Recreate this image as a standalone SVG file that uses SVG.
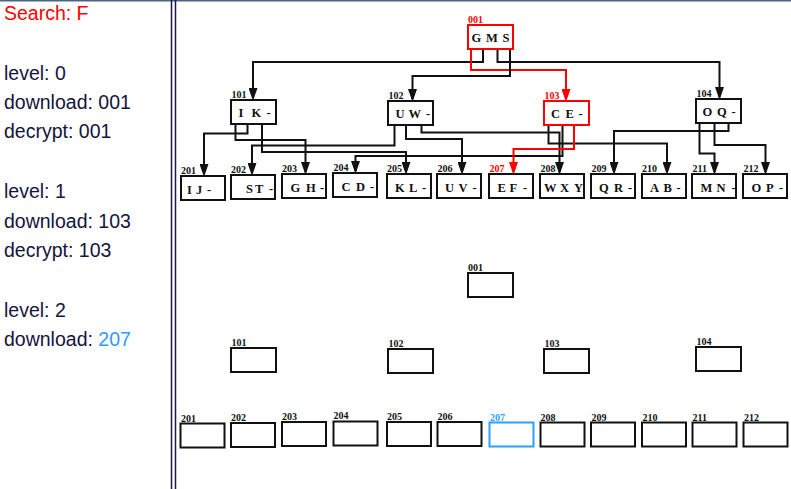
<svg xmlns="http://www.w3.org/2000/svg" width="791" height="489" viewBox="0 0 791 489">
<style>
.side{font-family:"Liberation Sans",Arial,sans-serif;font-size:19.5px;fill:#14143c}
.box{fill:#fff;stroke:#111;stroke-width:2}
.red{stroke:#ff0000}
.blue{stroke:#2b9fff}
.lbl{font-family:"Liberation Serif","Times New Roman",serif;font-weight:bold;font-size:10px;fill:#111}
.key{font-family:"Liberation Serif","Times New Roman",serif;font-weight:bold;font-size:12.5px;fill:#111}
.edge{fill:none;stroke:#111;stroke-width:2}
.edge.r{stroke:#ff0000}
</style>
<defs>
<marker id="ah" markerUnits="userSpaceOnUse" markerWidth="13" markerHeight="9" refX="10" refY="4.5" orient="auto" viewBox="0 0 13 9"><path d="M0,0 L13,4.5 L0,9 z" fill="#111"/></marker>
<marker id="ahr" markerUnits="userSpaceOnUse" markerWidth="13" markerHeight="9" refX="10" refY="4.5" orient="auto" viewBox="0 0 13 9"><path d="M0,0 L13,4.5 L0,9 z" fill="#ff0000"/></marker>
</defs>
<rect width="791" height="489" fill="#fff"/>
<rect x="0" y="0" width="791" height="1.5" fill="#4a6483"/>
<line x1="171.5" y1="0" x2="171.5" y2="489" stroke="#1a1a4a" stroke-width="1.5"/>
<line x1="175.5" y1="0" x2="175.5" y2="489" stroke="#1a1a4a" stroke-width="1.5"/>

<g id="sidebar">
<text class="side" x="4" y="20" style="fill:#ff0000">Search: F</text>
<text class="side" x="4" y="80">level: 0</text>
<text class="side" x="4" y="109">download: 001</text>
<text class="side" x="4" y="138">decrypt: 001</text>
<text class="side" x="4" y="198">level: 1</text>
<text class="side" x="4" y="228">download: 103</text>
<text class="side" x="4" y="257">decrypt: 103</text>
<text class="side" x="4" y="317">level: 2</text>
<text class="side" x="4" y="346">download: <tspan style="fill:#3399ff">207</tspan></text>
</g>

<g id="connectors">
<polyline class="edge" points="483,37 483,62 253,62 253,98" marker-end="url(#ah)"/>
<polyline class="edge r" points="471,37 471,70 566,70 566,99" marker-end="url(#ahr)"/>
<polyline class="edge" points="497.5,37 497.5,62 719.5,62 719.5,97" marker-end="url(#ah)"/>
<polyline class="edge" points="510,37 510,76 412.5,76 412.5,99" marker-end="url(#ah)"/>
<polyline class="edge" points="247.5,113 247.5,133.5 204,133.5 204,174" marker-end="url(#ah)"/>
<polyline class="edge" points="235.5,113 235.5,140 305.5,140 305.5,172" marker-end="url(#ah)"/>
<polyline class="edge" points="262,113 262,152 406,152 406,172" marker-end="url(#ah)"/>
<polyline class="edge" points="394.5,114 394.5,145.5 252,145.5 252,173" marker-end="url(#ah)"/>
<polyline class="edge" points="406,114 406,139 462,139 462,172" marker-end="url(#ah)"/>
<polyline class="edge" points="421.5,114 421.5,132.5 559.5,132.5 559.5,172" marker-end="url(#ah)"/>
<polyline class="edge" points="548.5,114 548.5,143.5 667,143.5 667,172" marker-end="url(#ah)"/>
<polyline class="edge" points="562.5,114 562.5,156 355.5,156 355.5,171" marker-end="url(#ah)"/>
<polyline class="edge r" points="574,114 574,149 513.5,149 513.5,172" marker-end="url(#ahr)"/>
<polyline class="edge" points="728.5,112 728.5,131 614,131 614,172" marker-end="url(#ah)"/>
<polyline class="edge" points="714.5,112 714.5,145 765.5,145 765.5,172" marker-end="url(#ah)"/>
<polyline class="edge" points="699.5,112 699.5,153.5 714.5,153.5 714.5,172" marker-end="url(#ah)"/>
</g>

<g id="n001"><rect class="box red" x="468" y="25" width="45" height="24"/><text class="lbl" x="468" y="22.5" style="fill:#ff0000">001</text><text class="key" x="471.5 486 502.5" y="41.5">GMS</text></g>
<g id="n101"><rect class="box" x="231" y="100" width="45" height="24"/><text class="lbl" x="231.5" y="98">101</text><text class="key" x="238.5 251.5 266.5" y="116.5">IK-</text></g>
<g id="n102"><rect class="box" x="388" y="101" width="45" height="24"/><text class="lbl" x="388.5" y="99">102</text><text class="key" x="395.5 408.5 426" y="117.5">UW-</text></g>
<g id="n103"><rect class="box red" x="544" y="101" width="45" height="24"/><text class="lbl" x="544.5" y="99" style="fill:#ff0000">103</text><text class="key" x="551 565.5 578.5" y="117.5">CE-</text></g>
<g id="n104"><rect class="box" x="696" y="99" width="45" height="24"/><text class="lbl" x="696.5" y="97">104</text><text class="key" x="702.5 717 731.5" y="115.5">OQ-</text></g>

<g id="n201"><rect class="box" x="181" y="176" width="44" height="24"/><text class="lbl" x="181" y="174">201</text><text class="key" x="187 196 207" y="193.5">IJ-</text></g>
<g id="n202"><rect class="box" x="231" y="175" width="44" height="24"/><text class="lbl" x="231" y="173">202</text><text class="key" x="246 255 269" y="192.5">ST-</text></g>
<g id="n203"><rect class="box" x="282" y="174" width="44" height="24"/><text class="lbl" x="282" y="172">203</text><text class="key" x="290.5 306 320" y="191.5">GH-</text></g>
<g id="n204"><rect class="box" x="333" y="173" width="44" height="24"/><text class="lbl" x="333.5" y="171">204</text><text class="key" x="341.5 356 370" y="190.5">CD-</text></g>
<g id="n205"><rect class="box" x="387" y="174" width="44" height="24"/><text class="lbl" x="387" y="172">205</text><text class="key" x="395 409 422" y="191.5">KL-</text></g>
<g id="n206"><rect class="box" x="437" y="174" width="44" height="24"/><text class="lbl" x="437.5" y="172">206</text><text class="key" x="445 458.5 472.5" y="191.5">UV-</text></g>
<g id="n207"><rect class="box" x="489" y="174" width="44" height="24"/><text class="lbl" x="489.5" y="172" style="fill:#ff0000">207</text><text class="key" x="497.5 509.5 523" y="191.5">EF-</text></g>
<g id="n208"><rect class="box" x="540" y="174" width="44" height="24"/><text class="lbl" x="540.5" y="172">208</text><text class="key" x="544 560 574" y="191.5">WXY</text></g>
<g id="n209"><rect class="box" x="591" y="174" width="44" height="24"/><text class="lbl" x="591.5" y="172">209</text><text class="key" x="599 614 628" y="191.5">QR-</text></g>
<g id="n210"><rect class="box" x="642" y="174" width="44" height="24"/><text class="lbl" x="642" y="172">210</text><text class="key" x="650 663.5 676.5" y="191.5">AB-</text></g>
<g id="n211"><rect class="box" x="692" y="174" width="44" height="24"/><text class="lbl" x="692.5" y="172">211</text><text class="key" x="700.5 716.5 731.5" y="191.5">MN-</text></g>
<g id="n212"><rect class="box" x="743" y="174" width="44" height="24"/><text class="lbl" x="743.5" y="172">212</text><text class="key" x="751.5 766 779" y="191.5">OP-</text></g>

<g id="b001"><rect class="box" x="468" y="273" width="45" height="24"/><text class="lbl" x="468" y="271">001</text></g>
<g id="b101"><rect class="box" x="231" y="348" width="45" height="24"/><text class="lbl" x="231.5" y="346">101</text></g>
<g id="b102"><rect class="box" x="388" y="349" width="45" height="24"/><text class="lbl" x="388.5" y="347">102</text></g>
<g id="b103"><rect class="box" x="544" y="349" width="45" height="24"/><text class="lbl" x="544.5" y="347">103</text></g>
<g id="b104"><rect class="box" x="696" y="347" width="45" height="24"/><text class="lbl" x="696.5" y="345">104</text></g>
<g id="b201"><rect class="box" x="180.5" y="423.5" width="44" height="24"/><text class="lbl" x="181" y="421.5">201</text></g>
<g id="b202"><rect class="box" x="231" y="423" width="44" height="24"/><text class="lbl" x="231" y="421">202</text></g>
<g id="b203"><rect class="box" x="282" y="422" width="44" height="24"/><text class="lbl" x="282" y="420">203</text></g>
<g id="b204"><rect class="box" x="333.5" y="421.5" width="44" height="24"/><text class="lbl" x="333.5" y="419">204</text></g>
<g id="b205"><rect class="box" x="387" y="422" width="44" height="24"/><text class="lbl" x="387" y="420">205</text></g>
<g id="b206"><rect class="box" x="437.5" y="422" width="44" height="24"/><text class="lbl" x="437.5" y="420">206</text></g>
<g id="b207"><rect class="box blue" x="489.5" y="422.5" width="44" height="24"/><text class="lbl" x="490" y="420.5" style="fill:#2b9fff">207</text></g>
<g id="b208"><rect class="box" x="540.5" y="422.5" width="44" height="24"/><text class="lbl" x="540.5" y="420.5">208</text></g>
<g id="b209"><rect class="box" x="591" y="422.5" width="44" height="24"/><text class="lbl" x="591.5" y="420.5">209</text></g>
<g id="b210"><rect class="box" x="642" y="422.5" width="44" height="24"/><text class="lbl" x="642.5" y="420.5">210</text></g>
<g id="b211"><rect class="box" x="692.5" y="422.5" width="44" height="24"/><text class="lbl" x="692.5" y="420.5">211</text></g>
<g id="b212"><rect class="box" x="743.5" y="422.5" width="44" height="24"/><text class="lbl" x="744" y="420.5">212</text></g>
</svg>
